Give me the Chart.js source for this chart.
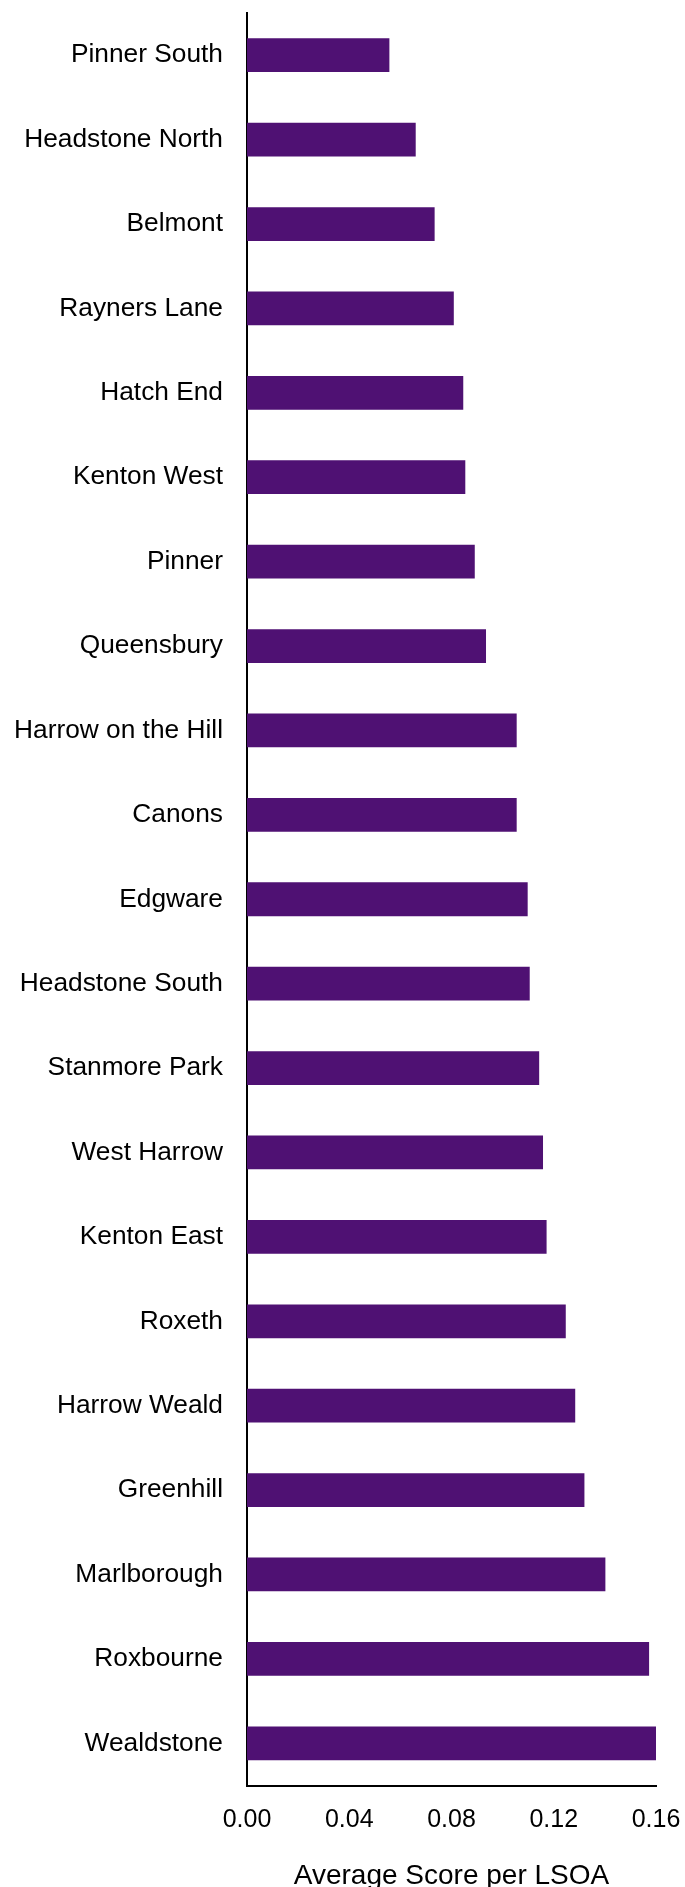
<!DOCTYPE html>
<html>
<head>
<meta charset="utf-8">
<script src="https://cdn.jsdelivr.net/npm/chart.js@4/dist/chart.umd.min.js"></script>
<style>
  html, body { margin: 0; padding: 0; background: #fff; overflow: hidden; }
  #wrap { position: relative; width: 685px; height: 1900px; }
</style>
</head>
<body>
<div id="wrap"><canvas id="c"></canvas></div>
<script>
const categories = [
  "Pinner South", "Headstone North", "Belmont", "Rayners Lane", "Hatch End",
  "Kenton West", "Pinner", "Queensbury", "Harrow on the Hill", "Canons",
  "Edgware", "Headstone South", "Stanmore Park", "West Harrow", "Kenton East",
  "Roxeth", "Harrow Weald", "Greenhill", "Marlborough", "Roxbourne", "Wealdstone"
];
const averageScore = [
  0.0557, 0.0660, 0.0734, 0.0809, 0.0846,
  0.0854, 0.0891, 0.0935, 0.1055, 0.1055,
  0.1098, 0.1106, 0.1143, 0.1158, 0.1172,
  0.1247, 0.1284, 0.1320, 0.1402, 0.1573, 0.1604
];
const xTicks = [0.00, 0.04, 0.08, 0.12, 0.16];
const axisTitle = "Average Score per LSOA";

const FONT = "'Liberation Sans', Arial, sans-serif";
const CANVAS_H = 1900;

new Chart(document.getElementById('c'), {
  type: 'bar',
  data: {
    labels: categories,
    datasets: [{
      data: averageScore,
      backgroundColor: '#4f1173',
      borderWidth: 0,
      categoryPercentage: 1.0,
      barPercentage: 0.4
    }]
  },
  options: {
    indexAxis: 'y',
    responsive: true,
    maintainAspectRatio: false,
    animation: false,
    layout: { padding: { top: 13, right: 29, bottom: 0, left: 0 } },
    plugins: { legend: { display: false }, tooltip: { enabled: false } },
    scales: {
      y: {
        grid: { display: false, drawTicks: false },
        border: { display: true, color: '#000', width: 2 },
        ticks: { color: '#000', padding: 24, font: { family: FONT, size: 26.3 } },
        afterFit: (s) => { s.width = 247; s.paddingTop = 0; s.paddingBottom = 0; }
      },
      x: {
        min: 0,
        max: 0.16,
        afterBuildTicks: (s) => { s.ticks = xTicks.map(v => ({ value: v })); },
        grid: { display: false, drawTicks: false },
        border: { display: true, color: '#000', width: 2 },
        ticks: {
          color: '#000', padding: 20, font: { family: FONT, size: 25 },
          callback: (v) => Number(v).toFixed(2)
        },
        title: {
          display: true, text: axisTitle, color: '#000',
          font: { family: FONT, size: 28 },
          padding: { top: 20, bottom: 7 }
        },
        afterFit: (s) => { s.height = CANVAS_H - 1785.5; s.paddingLeft = 0; s.paddingRight = 0; }
      }
    }
  }
});
</script>
</body>
</html>
